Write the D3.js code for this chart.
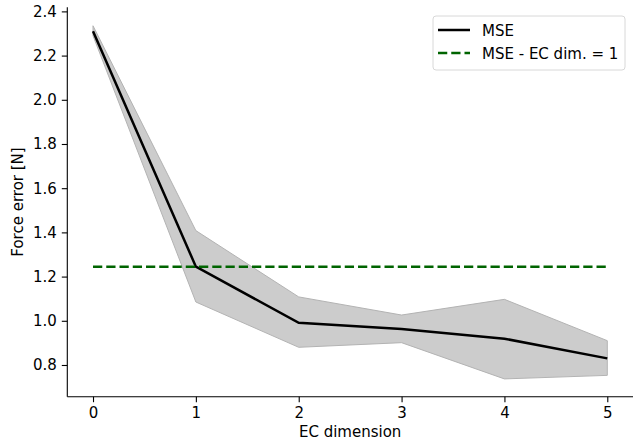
<!DOCTYPE html>
<html><head><meta charset="utf-8">
<script src="https://cdn.jsdelivr.net/npm/d3@7"></script>
<style>body{margin:0;background:#fff;} text{font-family:"DejaVu Sans",sans-serif;}</style>
</head><body>
<svg id="c" width="635" height="440"></svg>
<script>
const dims = [0, 1, 2, 3, 4, 5];
const mse = [2.31, 1.245, 0.991, 0.963, 0.919, 0.830];
const mseUpper = [2.335, 1.408, 1.108, 1.026, 1.097, 0.910];
const mseLower = [2.29, 1.085, 0.880, 0.901, 0.737, 0.753];
const baseline = 1.245;
const yTicks = [0.8, 1.0, 1.2, 1.4, 1.6, 1.8, 2.0, 2.2, 2.4];
const xTicks = [0, 1, 2, 3, 4, 5];

const svg = d3.select("#c");
const L = 67.3, R = 633, T = 7.3, B = 396.7;
const x = d3.scaleLinear().domain([-0.25, 5.25]).range([L, R]);
const y = d3.scaleLinear().domain([0.6565, 2.4185]).range([B, T]);
const FS = 15;

const pts = dims.map((d, i) => ({d, m: mse[i], u: mseUpper[i], l: mseLower[i]}));

svg.append("path").datum(pts)
  .attr("d", d3.area().x(p => x(p.d)).y0(p => y(p.l)).y1(p => y(p.u)))
  .attr("fill", "#cccccc").attr("stroke", "#b3b3b3").attr("stroke-width", 1);

svg.append("path").datum(pts)
  .attr("d", d3.line().x(p => x(p.d)).y(p => y(p.m)))
  .attr("fill", "none").attr("stroke", "#000").attr("stroke-width", 2.5);

svg.append("line")
  .attr("x1", x(dims[0])).attr("x2", x(dims[dims.length - 1]))
  .attr("y1", y(baseline)).attr("y2", y(baseline))
  .attr("stroke", "#006400").attr("stroke-width", 2.5).attr("stroke-dasharray", "9.25,4");

const xa = svg.append("g").attr("transform", `translate(0,${B})`)
  .call(d3.axisBottom(x).tickValues(xTicks).tickFormat(d3.format("d")).tickSizeOuter(0).tickSize(5.5).tickPadding(5));
const ya = svg.append("g").attr("transform", `translate(${L},0)`)
  .call(d3.axisLeft(y).tickValues(yTicks).tickFormat(d3.format(".1f")).tickSizeOuter(0).tickSize(5.5).tickPadding(5));
[xa, ya].forEach(a => {
  a.selectAll("path.domain").attr("stroke", "#000").attr("stroke-width", 1.1);
  a.selectAll(".tick line").attr("stroke", "#000").attr("stroke-width", 1.1);
  a.selectAll("text").attr("font-size", FS).attr("fill", "#000").attr("font-family", "DejaVu Sans");
});
ya.select("path.domain").attr("d", `M0,${B}V${T}`);
xa.select("path.domain").attr("d", `M${L},0H${R}`);

svg.append("text").attr("x", (L + R) / 2).attr("y", 437).attr("text-anchor", "middle")
  .attr("font-size", FS).text("EC dimension");
svg.append("text").attr("transform", `translate(23,${(T + B) / 2}) rotate(-90)`)
  .attr("text-anchor", "middle").attr("font-size", FS).text("Force error [N]");

const lg = svg.append("g");
lg.append("rect").attr("x", 433).attr("y", 16).attr("width", 192).attr("height", 54)
  .attr("rx", 3).attr("fill", "#fff").attr("stroke", "#d8d8d8").attr("stroke-width", 1);
lg.append("line").attr("x1", 438).attr("x2", 470).attr("y1", 30).attr("y2", 30)
  .attr("stroke", "#000").attr("stroke-width", 2.5);
lg.append("line").attr("x1", 438).attr("x2", 470).attr("y1", 53).attr("y2", 53)
  .attr("stroke", "#006400").attr("stroke-width", 2.5).attr("stroke-dasharray", "9.25,4");
lg.append("text").attr("x", 482).attr("y", 35.5).attr("font-size", FS).text("MSE");
lg.append("text").attr("x", 482).attr("y", 58.5).attr("font-size", FS).text("MSE - EC dim. = 1");
</script>
</body></html>
